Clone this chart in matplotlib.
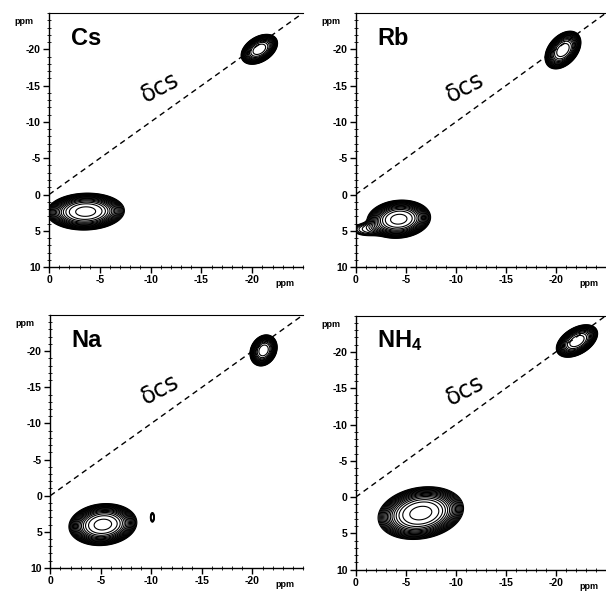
import numpy as np
import matplotlib.pyplot as plt
from matplotlib.ticker import MultipleLocator

plt.rcParams['font.family'] = ['Liberation Sans', 'DejaVu Sans']
plt.rcParams['axes.unicode_minus'] = False
plt.rcParams['mathtext.fontset'] = 'custom'
plt.rcParams['mathtext.rm'] = 'Liberation Sans:bold'
plt.rcParams['mathtext.it'] = 'Liberation Sans:bold'
plt.rcParams['mathtext.bf'] = 'Liberation Sans:bold'

# panel names and peak parameters
# each peak: (x centre, y centre, sigma x, sigma y, correlation, amplitude)
panel_names = ["Cs", "Rb", "Na", "NH$_4$"]
cs_peaks = [(-3.6, 2.35, 2.1, 1.4, 0.05, 1.0), (-20.7, -20.0, 1.0, 1.15, 0.4, 0.9)]
rb_peaks = [(-4.3, 3.4, 1.75, 1.45, 0.1, 1.0), (-1.2, 4.8, 1.2, 0.7, 0.0, 0.12),
            (-20.7, -19.9, 1.0, 1.45, 0.4, 0.9)]
na_peaks = [(-5.2, 4.0, 1.85, 1.6, 0.1, 1.0), (-10.1, 3.0, 0.18, 0.6, 0.0, 0.1),
            (-21.1, -20.1, 0.75, 1.2, 0.2, 0.9)]
nh4_peaks = [(-6.5, 2.2, 2.35, 2.0, 0.18, 1.0), (-22.1, -21.5, 1.15, 1.25, 0.45, 0.9)]
all_peaks = [cs_peaks, rb_peaks, na_peaks, nh4_peaks]

x_ticks = [0, -5, -10, -15, -20]
y_ticks = [10, 5, 0, -5, -10, -15, -20]

# axes rectangles in figure fractions
rects = [[0.081, 0.548, 0.419, 0.430],
         [0.587, 0.548, 0.413, 0.430],
         [0.083, 0.039, 0.417, 0.428],
         [0.587, 0.036, 0.413, 0.430]]

fig = plt.figure(figsize=(6.06, 5.91), dpi=100)

xg = np.linspace(2, -27, 450)
yg = np.linspace(12, -27, 450)
X, Y = np.meshgrid(xg, yg)
levels = np.geomspace(0.05, 0.95, 18)

for name, peaks, r in zip(panel_names, all_peaks, rects):
    ax = fig.add_axes(r)
    Z = np.zeros_like(X)
    for cx, cy, sx, sy, rho, amp in peaks:
        dx = (X - cx) / sx
        dy = (Y - cy) / sy
        q = (dx**2 - 2*rho*dx*dy + dy**2) / (1 - rho**2)
        Z += amp * np.exp(-0.5 * q**1.5)
    ax.contour(X, Y, Z, levels=levels, colors='black', linewidths=0.8)
    ax.plot([0, -25], [0, -25], color='black', ls=(0, (4, 3)), lw=1.0)
    ax.set_xlim(0, -25)
    ax.set_ylim(10, -25)
    ax.set_xticks(x_ticks)
    ax.set_yticks(y_ticks)
    ax.xaxis.set_minor_locator(MultipleLocator(1))
    ax.yaxis.set_minor_locator(MultipleLocator(1))
    ax.tick_params(which='major', direction='out', length=4, width=1,
                   labelsize=7.5, pad=2)
    ax.tick_params(which='minor', direction='inout', length=2.5, width=0.6)
    for lab in ax.get_xticklabels() + ax.get_yticklabels():
        lab.set_fontweight('bold')
    ax.spines['right'].set_visible(False)
    ax.spines['top'].set_linewidth(0.8)
    ax.spines['left'].set_linewidth(1.0)
    ax.spines['bottom'].set_linewidth(1.0)
    ax.text(0.085, 0.9, name, transform=ax.transAxes, fontsize=17,
            fontweight='bold', va='center', ha='left')
    ax.text(-0.1, 0.965, "ppm", transform=ax.transAxes, fontsize=6.5,
            fontweight='bold', ha='center', va='center')
    ax.text(0.93, -0.065, "ppm", transform=ax.transAxes, fontsize=6.5,
            fontweight='bold', ha='center', va='center')
    ax.text(-10.9, -14.7, "δcs", fontsize=17, rotation=28,
            ha='center', va='center', family=['DejaVu Sans'])

fig.savefig("out.png", dpi=100)
